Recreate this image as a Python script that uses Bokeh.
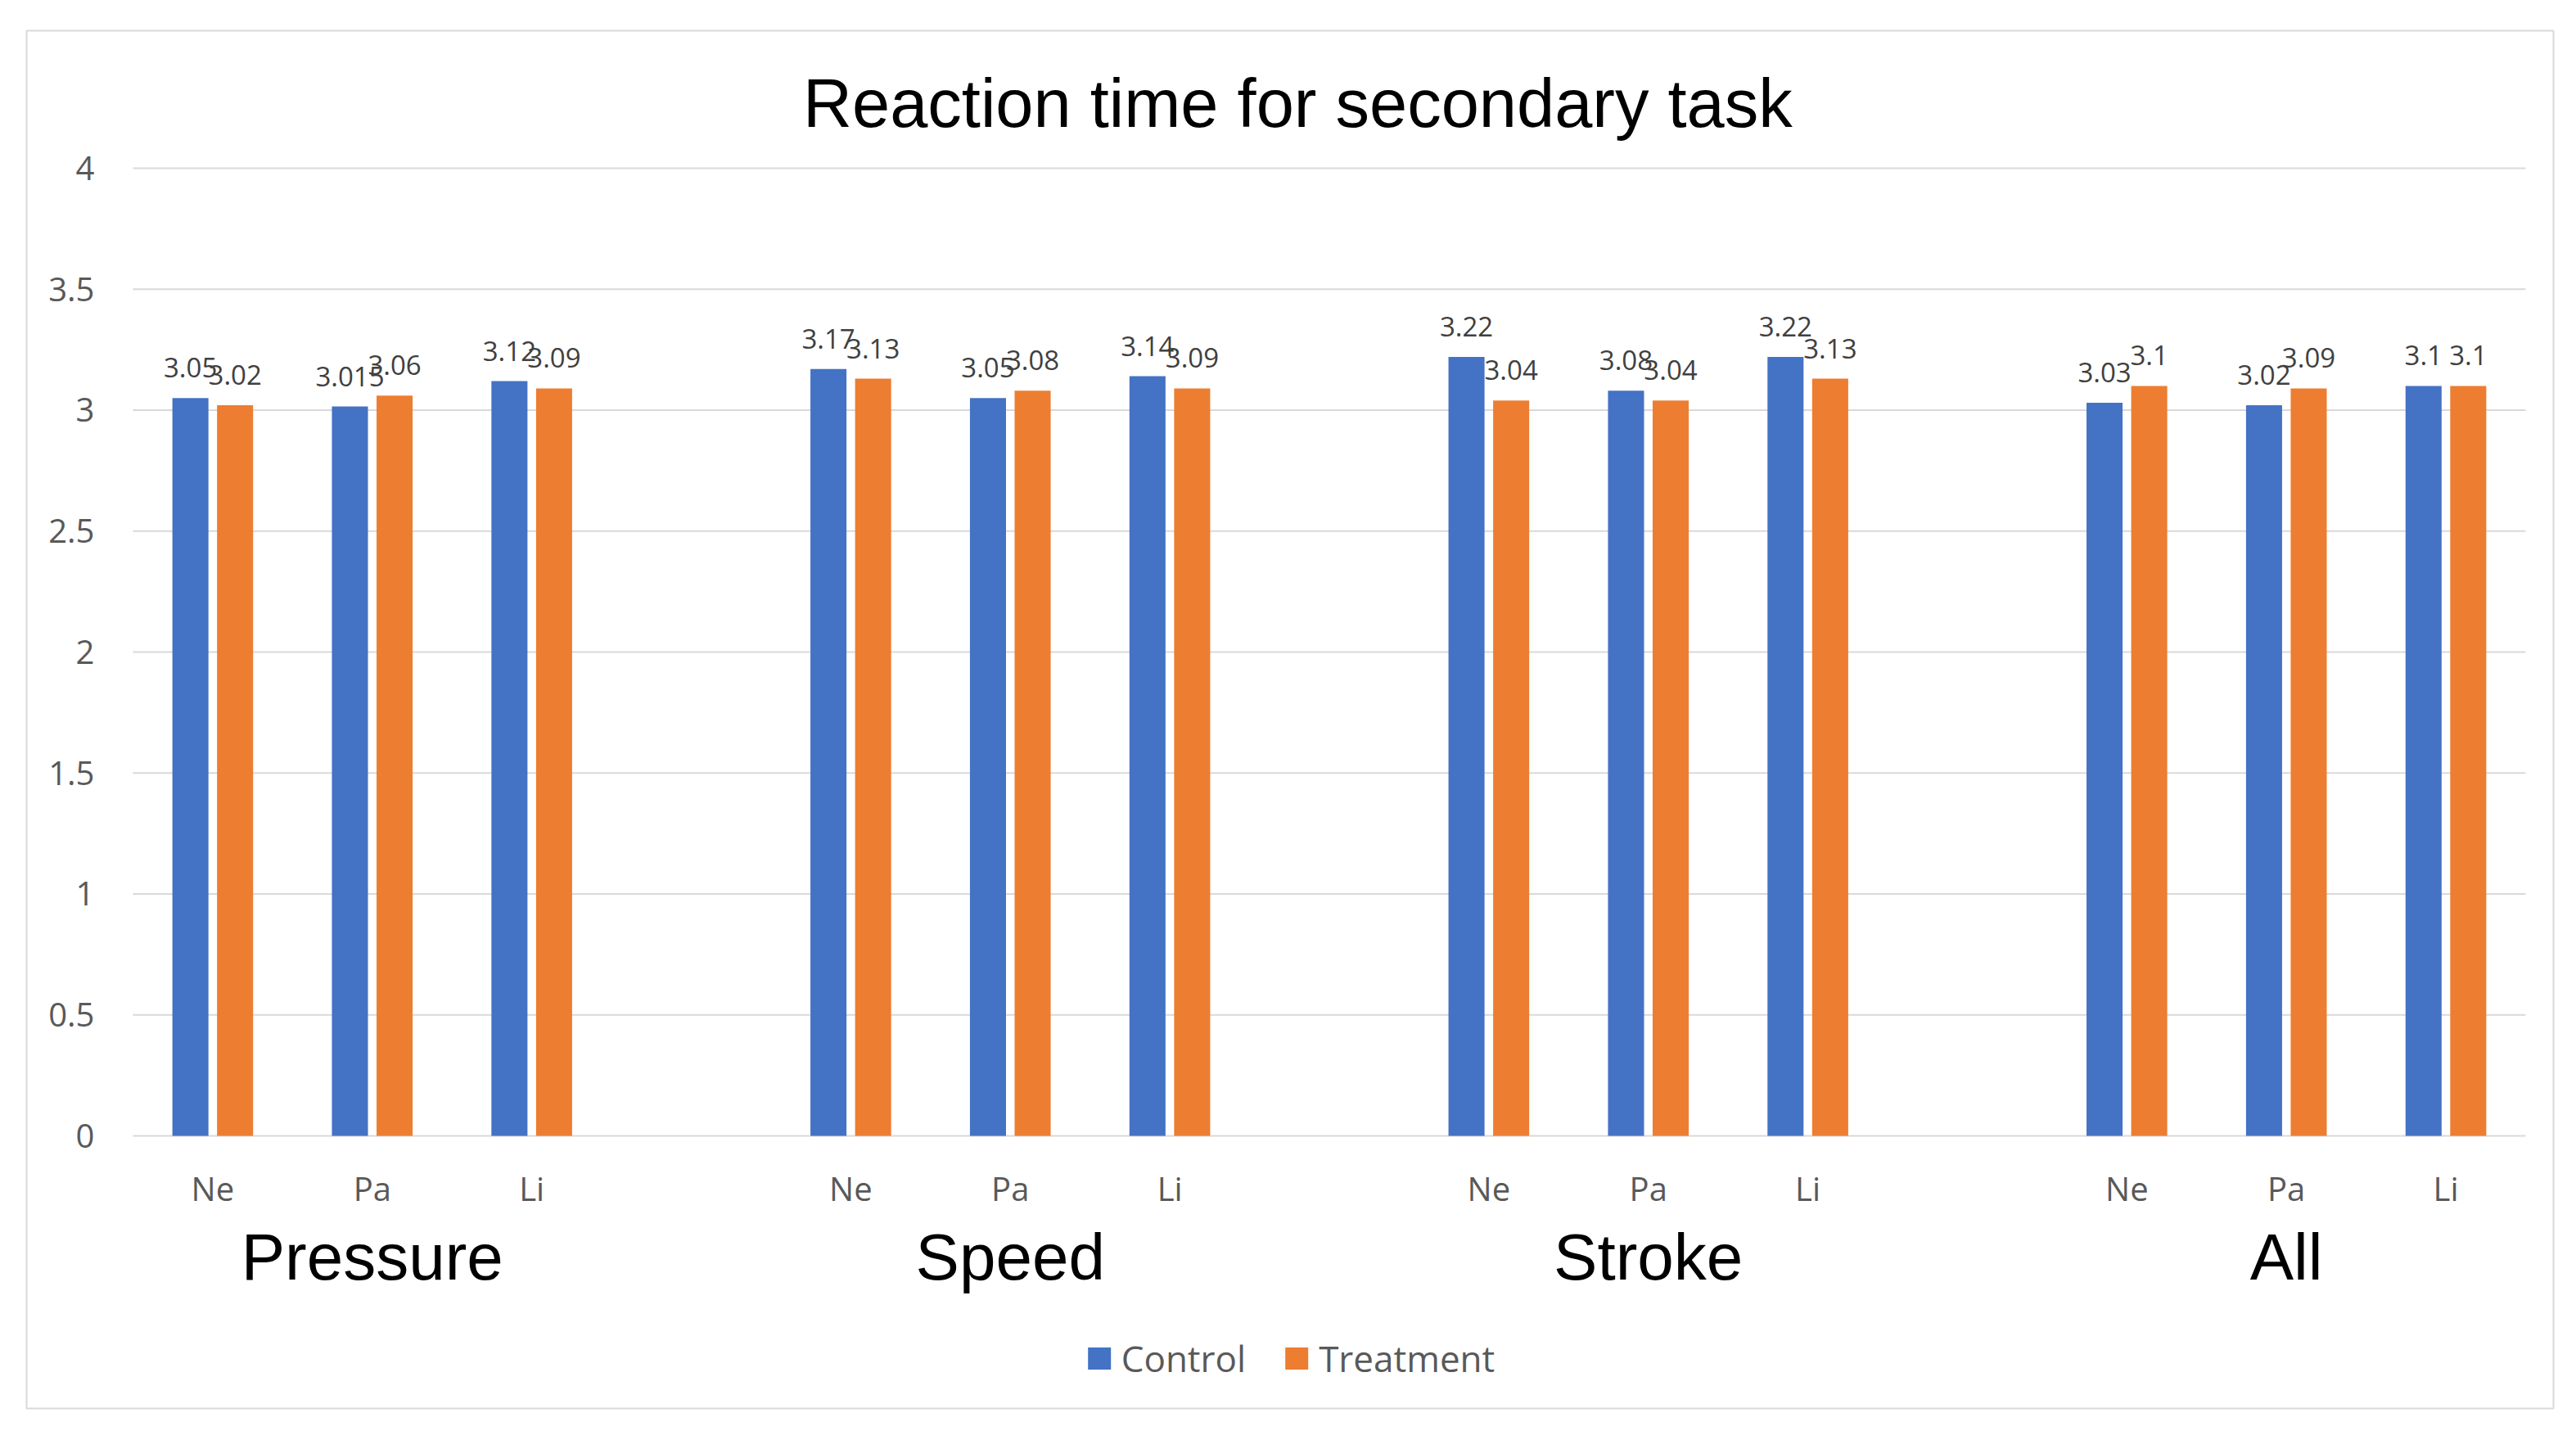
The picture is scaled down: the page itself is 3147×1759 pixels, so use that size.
from bokeh.plotting import figure
from bokeh.models import ColumnDataSource, Legend, LegendItem, Range1d
from bokeh.embed import file_html
from bokeh.resources import INLINE
from bokeh.core.properties import value

title_text = "Reaction time for secondary task"
groups = ["Pressure", "Speed", "Stroke", "All"]
conditions = ["Ne", "Pa", "Li"]
series_names = ["Control", "Treatment"]
control = [3.05, 3.015, 3.12, 3.17, 3.05, 3.14, 3.22, 3.08, 3.22, 3.03, 3.02, 3.1]
treatment = [3.02, 3.06, 3.09, 3.13, 3.08, 3.09, 3.04, 3.04, 3.13, 3.1, 3.09, 3.1]
y_ticks = [0, 0.5, 1, 1.5, 2, 2.5, 3, 3.5, 4]
y_tick_labels = ["0", "0.5", "1", "1.5", "2", "2.5", "3", "3.5", "4"]

BLUE = "#4472C4"
ORANGE = "#ED7D31"
GRID = "#d9d9d9"
LABEL = "#595959"

# layout constants (category slots: 3 per group + 1 empty slot between groups)
SLOTS_PER_GROUP = len(conditions) + 1
N_SLOTS = len(groups) * SLOTS_PER_GROUP - 1
DODGE = 0.14
BAR_W = 0.226

xs = [gi * SLOTS_PER_GROUP + ci + 0.5 for gi in range(len(groups)) for ci in range(len(conditions))]
cond_labels = [c for g in groups for c in conditions]
group_x = [gi * SLOTS_PER_GROUP + (len(conditions) / 2) for gi in range(len(groups))]

src = ColumnDataSource(dict(
    xc=[x - DODGE for x in xs],
    xt=[x + DODGE for x in xs],
    xm=xs,
    zero=[0] * len(xs),
    cond=cond_labels,
    control=control,
    treatment=treatment,
    control_lbl=[str(v) for v in control],
    treatment_lbl=[str(v) for v in treatment],
))

# frame covers the whole chart box (its outline is the chart border)
p = figure(x_range=Range1d(-0.667, N_SLOTS + 0.1745), y_range=Range1d(-1.127, 4.5685),
           width=3131, height=1743, output_backend="svg", toolbar_location=None,
           x_axis_location=None, y_axis_location=None,
           min_border_left=32, min_border_right=12, min_border_top=37, min_border_bottom=23)
p.outline_line_color = GRID
p.outline_line_width = 2
p.background_fill_color = "white"
p.border_fill_color = "white"
p.xgrid.visible = False
p.ygrid.visible = False

# gridlines (value axis)
p.segment(x0=[0] * len(y_ticks), x1=[N_SLOTS] * len(y_ticks), y0=y_ticks, y1=y_ticks,
          line_color=GRID, line_width=2)

# y tick labels
p.text(x=[0] * len(y_ticks), y=y_ticks, text=y_tick_labels, x_offset=-47,
       text_font=value("Open Sans"), text_font_size="40px", text_color=LABEL,
       text_align="right", text_baseline="middle")

# bars
r1 = p.vbar(x="xc", top="control", width=BAR_W, source=src, fill_color=BLUE, line_color=None)
r2 = p.vbar(x="xt", top="treatment", width=BAR_W, source=src, fill_color=ORANGE, line_color=None)

# data labels
lbl_kw = dict(source=src, text_font=value("Open Sans"), text_font_size="33px",
              text_color="#404040", text_align="center", text_baseline="alphabetic",
              y_offset=-37)
p.text(x="xc", y="control", text="control_lbl", **lbl_kw)
p.text(x="xt", y="treatment", text="treatment_lbl", **lbl_kw)

# category labels
p.text(x="xm", y="zero", text="cond", source=src, y_offset=64,
       text_font=value("Open Sans"), text_font_size="40px", text_color=LABEL,
       text_align="center", text_baseline="middle")

# group labels
p.text(x=group_x, y=[0] * len(groups), text=groups, y_offset=148,
       text_font=value("Liberation Sans"), text_font_size="80px", text_color="#000000",
       text_align="center", text_baseline="middle")

# title
p.text(x=[7.302], y=[4], text=[title_text], y_offset=-79,
       text_font=value("Liberation Sans"), text_font_size="83px", text_color="#000000",
       text_align="center", text_baseline="middle")

legend = Legend(items=[LegendItem(label=series_names[0], renderers=[r1]),
                       LegendItem(label=series_names[1], renderers=[r2])],
                orientation="horizontal", location="bottom_center",
                glyph_width=35, glyph_height=34, label_standoff=10, spacing=44,
                label_text_font="Open Sans", label_text_font_size="44px",
                label_text_color=LABEL, border_line_color=None,
                background_fill_alpha=0, padding=0, margin=31)
p.add_layout(legend, "center")

open("out.html", "w").write(file_html(p, INLINE))
